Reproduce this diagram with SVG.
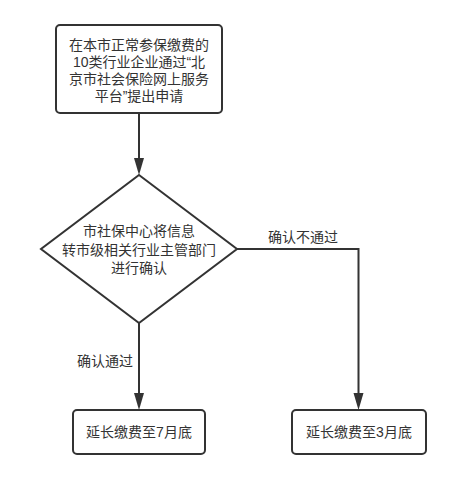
<svg xmlns="http://www.w3.org/2000/svg" width="450" height="479" viewBox="0 0 450 479">
<defs>
<style>
.shape{fill:#ffffff;stroke:#333333;stroke-width:2}
.edge{fill:none;stroke:#333333;stroke-width:2}
.head{fill:#333333}
text{font-family:"Liberation Sans","Noto Sans CJK SC",sans-serif;font-size:14px;fill:#333333;text-anchor:middle}
</style>
</defs>
<rect width="450" height="479" fill="#ffffff"/>
<g id="connectors">
<path class="edge" d="M139,113 V159"/>
<path class="head" d="M134,158 L144,158 L139,175 Z"/>
<path class="edge" d="M139,323 V394"/>
<path class="head" d="M134,393 L144,393 L139,410 Z"/>
<path class="edge" d="M237,249 H358.5 V394"/>
<path class="head" d="M353.5,393 L363.5,393 L358.5,410 Z"/>
<text x="303" y="242">确认不通过</text>
<text x="105" y="366">确认通过</text>
</g>
<g id="apply">
<rect class="shape" x="56" y="25" width="166" height="88" rx="4"/>
<text x="139" y="50">在本市正常参保缴费的</text>
<text x="139" y="67">10类行业企业通过“北</text>
<text x="139" y="84">京市社会保险网上服务</text>
<text x="139" y="101">平台”提出申请</text>
</g>
<g id="confirm">
<path class="shape" d="M139,175 L237,249 L139,323 L41,249 Z"/>
<text x="139" y="236">市社保中心将信息</text>
<text x="139" y="255">转市级相关行业主管部门</text>
<text x="139" y="273">进行确认</text>
</g>
<g id="july">
<rect class="shape" x="73" y="410" width="132" height="44" rx="4"/>
<text x="139" y="437">延长缴费至7月底</text>
</g>
<g id="march">
<rect class="shape" x="292" y="410" width="134" height="44" rx="4"/>
<text x="359" y="437">延长缴费至3月底</text>
</g>
</svg>
